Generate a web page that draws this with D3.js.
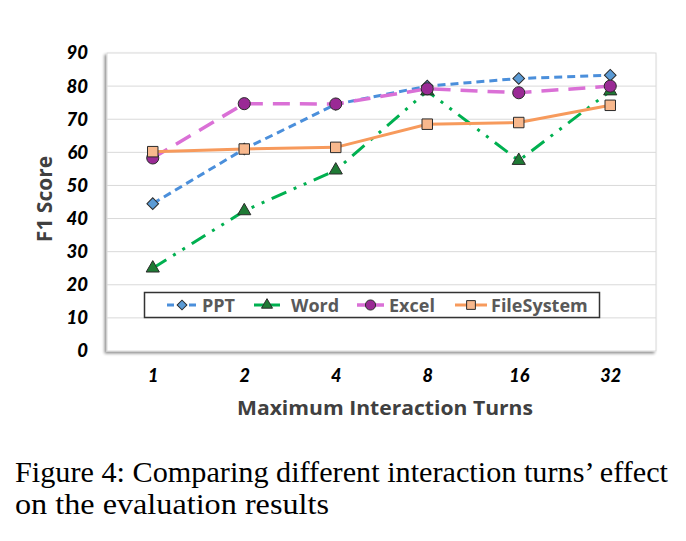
<!DOCTYPE html>
<html>
<head>
<meta charset="utf-8">
<script src="https://d3js.org/d3.v7.min.js"></script>
<style>
  body { margin: 0; background: #fff; }
</style>
</head>
<body>
<script>
// data
var turns = ["1", "2", "4", "8", "16", "32"];
var yTicks = [0, 10, 20, 30, 40, 50, 60, 70, 80, 90];
var pptScores = [44.5, 61, 74.5, 80, 82.3, 83.3];
var wordScores = [25, 42.3, 54.6, 78.5, 57.5, 78.5];
var excelScores = [58.3, 74.7, 74.6, 79.2, 78, 80];
var fileSystemScores = [60.2, 61, 61.5, 68.5, 69, 74.2];
var seriesNames = ["PPT", "Word", "Excel", "FileSystem"];

var W = 686, H = 541;
var margin = { top: 53, right: 30, bottom: 190, left: 107 };
var width = W - margin.left - margin.right,
    height = H - margin.top - margin.bottom;

var svg = d3.select("body").append("svg").attr("width", W).attr("height", H);

var defs = svg.append("defs");
var shadow = defs.append("filter").attr("id", "shadow")
    .attr("x", "-5%").attr("y", "-5%").attr("width", "110%").attr("height", "110%");
shadow.append("feGaussianBlur").attr("in", "SourceAlpha").attr("stdDeviation", 1.5);
shadow.append("feOffset").attr("dx", -2).attr("dy", 2).attr("result", "off");
shadow.append("feComponentTransfer").append("feFuncA").attr("type", "linear").attr("slope", 0.45);
var merge = shadow.append("feMerge");
merge.append("feMergeNode");
merge.append("feMergeNode").attr("in", "SourceGraphic");

var g = svg.append("g").attr("transform", "translate(" + margin.left + "," + margin.top + ")");

var x = d3.scalePoint().domain(turns).range([0, width]).padding(0.5);
var y = d3.scaleLinear().domain([0, 90]).range([height, 0]);

// plot frame
g.append("rect")
    .attr("width", width).attr("height", height)
    .attr("fill", "#fff").attr("stroke", "#d9d9d9").attr("stroke-width", 1)
    .attr("filter", "url(#shadow)");

// grid
g.append("g").selectAll("line").data(yTicks.slice(1, -1)).enter().append("line")
    .attr("x1", 0).attr("x2", width)
    .attr("y1", function (d) { return y(d); }).attr("y2", function (d) { return y(d); })
    .attr("stroke", "#d9d9d9").attr("stroke-width", 1);

// y axis labels
var yAxis = g.append("g")
    .call(d3.axisLeft(y).tickValues(yTicks).tickSize(0).tickPadding(19));
yAxis.select(".domain").remove();
yAxis.selectAll("text")
    .attr("font-family", "Lato, 'Open Sans', sans-serif")
    .attr("font-size", 18.5).attr("font-weight", "900").attr("font-style", "italic")
    .attr("fill", "#000");

// x axis labels
var xAxis = g.append("g").attr("transform", "translate(0," + height + ")")
    .call(d3.axisBottom(x).tickSize(0).tickPadding(18));
xAxis.select(".domain").remove();
xAxis.selectAll("text")
    .attr("font-family", "Lato, 'Open Sans', sans-serif")
    .attr("font-size", 18).attr("font-weight", "900").attr("font-style", "italic")
    .attr("fill", "#000");

// axis titles
svg.append("text")
    .attr("transform", "translate(52,199) rotate(-90)")
    .attr("text-anchor", "middle")
    .attr("font-family", "'Open Sans', Lato, sans-serif")
    .attr("font-size", 21).attr("font-weight", "bold").attr("fill", "#404040")
    .text("F1 Score");

svg.append("text")
    .attr("x", 385).attr("y", 415)
    .attr("text-anchor", "middle")
    .attr("font-family", "'Open Sans', Lato, sans-serif")
    .attr("font-size", 20).attr("font-weight", "bold").attr("fill", "#404040")
    .attr("textLength", 296).attr("lengthAdjust", "spacingAndGlyphs")
    .text("Maximum Interaction Turns");

var styles = {
    PPT: { data: pptScores, color: "#4b8fdb", dash: "8,5", w: 3, marker: "diamond", fill: "#5b9bd5", size: 68 },
    Word: { data: wordScores, color: "#00b050", dash: "16,8,3,8,3,8", w: 3, marker: "triangle", fill: "#1f7a35", size: 75 },
    Excel: { data: excelScores, color: "#da70d6", dash: "17,10", w: 3.5, marker: "circle", fill: "#9a2a95", size: 115 },
    FileSystem: { data: fileSystemScores, color: "#f79a5c", dash: null, w: 3, marker: "square", fill: "#f8b88d", size: 110 }
};
// diamonds are squares turned by 45 degrees
var symbolTypes = {
    diamond: d3.symbolSquare, triangle: d3.symbolTriangle,
    circle: d3.symbolCircle, square: d3.symbolSquare
};

var line = d3.line()
    .x(function (d, i) { return x(turns[i]); })
    .y(function (d) { return y(d); });

seriesNames.forEach(function (name) {
    var s = styles[name];
    var rot = s.marker === "diamond" ? " rotate(45)" : "";
    g.append("path")
        .datum(s.data)
        .attr("fill", "none")
        .attr("stroke", s.color)
        .attr("stroke-width", s.w)
        .attr("stroke-dasharray", s.dash)
        .attr("d", line);
    g.append("g").selectAll("path").data(s.data).enter().append("path")
        .attr("transform", function (d, i) { return "translate(" + x(turns[i]) + "," + y(d) + ")" + rot; })
        .attr("d", d3.symbol().type(symbolTypes[s.marker]).size(s.size))
        .attr("fill", s.fill)
        .attr("stroke", "#2b2b2b")
        .attr("stroke-width", 1);
});

// legend
var legend = svg.append("g");
legend.append("rect")
    .attr("x", 144.5).attr("y", 292.5).attr("width", 455).attr("height", 25)
    .attr("fill", "#fff").attr("stroke", "#333").attr("stroke-width", 1.5);

var legendX = [167, 254, 357, 455];
var legendLen = [30, 26, 27, 32];
var legendGap = [5, 11, 5, 4];
seriesNames.forEach(function (name, i) {
    var s = styles[name];
    var lx = legendX[i], ly = 305;
    var rot = s.marker === "diamond" ? " rotate(45)" : "";
    legend.append("line")
        .attr("x1", lx).attr("x2", lx + legendLen[i]).attr("y1", ly).attr("y2", ly)
        .attr("stroke", s.color).attr("stroke-width", s.w)
        .attr("stroke-dasharray", name === "PPT" ? "7,4" : (name === "Excel" ? "12,5" : null));
    legend.append("path")
        .attr("transform", "translate(" + (lx + legendLen[i] / 2) + "," + ly + ")" + rot)
        .attr("d", d3.symbol().type(symbolTypes[s.marker]).size(s.size * 0.7))
        .attr("fill", s.fill).attr("stroke", "#2b2b2b").attr("stroke-width", 1);
    legend.append("text")
        .attr("x", lx + legendLen[i] + legendGap[i]).attr("y", ly + 6.5)
        .attr("font-family", "'Open Sans', Lato, sans-serif")
        .attr("font-size", 18).attr("font-weight", "bold").attr("fill", "#595959")
        .text(name);
});

// caption
var caption = svg.append("g")
    .attr("font-family", "'Liberation Serif', 'Times New Roman', serif")
    .attr("font-size", 29).attr("fill", "#000");
caption.append("text").attr("x", 15).attr("y", 482)
    .attr("textLength", 653).attr("lengthAdjust", "spacingAndGlyphs")
    .text("Figure 4: Comparing different interaction turns\u2019 effect");
caption.append("text").attr("x", 15).attr("y", 514)
    .attr("textLength", 314).attr("lengthAdjust", "spacingAndGlyphs")
    .text("on the evaluation results");
</script>
</body>
</html>
